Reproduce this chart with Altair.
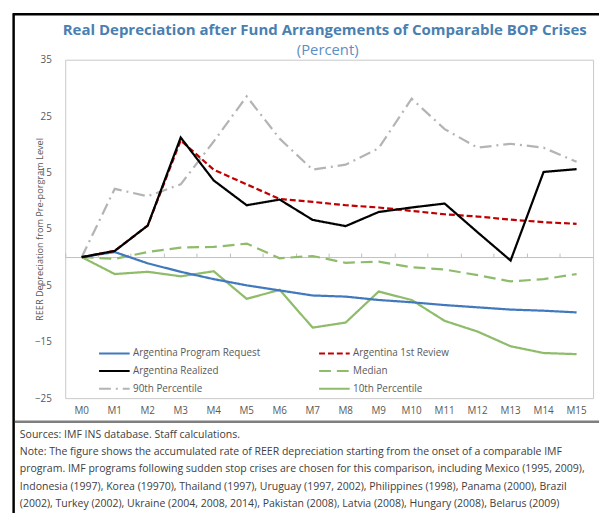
import altair as alt
import pandas as pd

months = [f"M{i}" for i in range(16)]

program_request = [0, 0.9, -1.1, -2.6, -3.9, -5.0, -5.9, -6.8, -7.0, -7.6, -8.0, -8.5, -8.9, -9.3, -9.5, -9.8]
first_review = [0, 1.1, 5.6, 20.7, 15.5, 12.9, 10.3, 9.8, 9.2, 8.8, 8.2, 7.6, 7.2, 6.65, 6.2, 5.9]
realized = [0, 1.1, 5.6, 21.2, 13.6, 9.2, 10.2, 6.6, 5.5, 8.0, 8.8, 9.5, 4.4, -0.6, 15.1, 15.6]
median = [0, -0.3, 0.9, 1.7, 1.8, 2.4, -0.2, 0.2, -1.0, -0.8, -1.8, -2.2, -3.2, -4.3, -3.9, -3.0]
pct90 = [0, 12.1, 10.8, 12.9, 20.5, 28.5, 21.0, 15.5, 16.4, 19.3, 28.1, 22.7, 19.4, 20.1, 19.4, 16.9]
pct10 = [0, -3.0, -2.6, -3.4, -2.5, -7.4, -5.8, -12.5, -11.6, -6.1, -7.6, -11.3, -13.2, -15.8, -17.0, -17.2]

series_names = [
    "Argentina Program Request",
    "Argentina 1st Review",
    "Argentina Realized",
    "Median",
    "90th Percentile",
    "10th Percentile",
]
series_colors = ["#4178be", "#c00000", "#000000", "#8fbc6b", "#b4b4b4", "#8fbc6b"]
series_dashes = [[1, 0], [6, 3], [1, 0], [12, 6], [12, 5, 2, 5], [1, 0]]

y_ticks = [-25, -15, -5, 5, 15, 25, 35]

title_text = "Real Depreciation after Fund Arrangements of Comparable BOP Crises"
subtitle_text = "(Percent)"
y_title = "REER  Depreciation from Pre-porgram Level"
note_lines = [
    "Sources: IMF INS database. Staff calculations.",
    "Note: The figure shows the accumulated  rate of REER depreciation starting from the onset of a comparable IMF",
    "program. IMF programs following sudden stop crises are chosen for this comparison, including Mexico (1995, 2009),",
    "Indonesia (1997), Korea (19970), Thailand (1997), Uruguay (1997, 2002), Philippines (1998), Panama (2000), Brazil",
    "(2002), Turkey (2002), Ukraine (2004, 2008, 2014), Pakistan (2008), Latvia (2008), Hungary (2008), Belarus (2009)",
    "and Jordan (2012).",
]

# drawing order (black last so it sits on top)
draw_order = [
    ("90th Percentile", pct90),
    ("10th Percentile", pct10),
    ("Median", median),
    ("Argentina Program Request", program_request),
    ("Argentina 1st Review", first_review),
    ("Argentina Realized", realized),
]
rows = []
for name, vals in draw_order:
    for m, v in zip(months, vals):
        rows.append({"month": m, "series": name, "value": v})
df = pd.DataFrame(rows)

FONT = "Open Sans"
GREY_TXT = "#595959"

x_scale = alt.Scale(type="band", paddingInner=0, paddingOuter=0)
y_scale = alt.Scale(domain=[-25, 35], nice=False, zero=False)

# wide line-sample symbol: path spans 6 radii -> 3*sqrt(size) = 31px
legend = alt.Legend(
    title=None, orient="none", legendX=43.3, legendY=291, columns=2, direction="horizontal",
    symbolType="M-3,0H3", symbolSize=106.8, symbolStrokeWidth=2.25,
    labelFontSize=10, labelColor=GREY_TXT, labelFont=FONT, labelOffset=12.4,
    columnPadding=54, rowPadding=6, gridAlign="all", padding=0, labelLimit=0,
)

lines = alt.Chart(df).mark_line(strokeWidth=2.25).encode(
    x=alt.X(
        "month:N", sort=months, bandPosition=0.5, scale=x_scale,
        axis=alt.Axis(
            orient="bottom", title=None, ticks=False, domain=False, labelAngle=0,
            labelFont=FONT, labelFontSize=10, labelColor=GREY_TXT, labelPadding=8,
        ),
    ),
    y=alt.Y(
        "value:Q", scale=y_scale,
        axis=alt.Axis(
            values=y_ticks, grid=False, ticks=False, domain=False,
            labelFont=FONT, labelFontSize=10, labelColor=GREY_TXT, labelPadding=14,
            title=y_title, titleFont=FONT, titleFontSize=9.3, titleFontWeight="normal",
            titleColor=GREY_TXT, titleX=-26, titleY=171.5, titleAngle=270,
            titleAlign="center", titleBaseline="middle",
        ),
    ),
    color=alt.Color("series:N", scale=alt.Scale(domain=series_names, range=series_colors),
                    sort=series_names, legend=legend),
    strokeDash=alt.StrokeDash("series:N", scale=alt.Scale(domain=series_names, range=series_dashes),
                              sort=series_names, legend=legend),
)

# zero axis line with category separator ticks
zero_axis = alt.Chart(df).mark_point(opacity=0).encode(
    x=alt.X(
        "month:N", sort=months, scale=x_scale,
        axis=alt.Axis(
            orient="top", offset=-200, labels=False, title=None, bandPosition=0,
            domainColor="#bfbfbf", domainWidth=1, tickColor="#bfbfbf", tickSize=4, tickWidth=1,
        ),
    ),
)

one = pd.DataFrame({"k": [0]})

frame_top = alt.Chart(one).mark_rule(color="#000000", strokeWidth=2.5).encode(
    x=alt.value(-53), x2=alt.value(545), y=alt.value(-46), y2=alt.value(-46))
frame_left = alt.Chart(one).mark_rule(color="#000000", strokeWidth=2.5).encode(
    x=alt.value(-52.3), x2=alt.value(-52.3), y=alt.value(-47), y2=alt.value(470))
note_sep = alt.Chart(one).mark_rule(color="#7f7f7f", strokeWidth=2.5).encode(
    x=alt.value(-51), x2=alt.value(545), y=alt.value(367), y2=alt.value(367))

title_mark = alt.Chart(one).mark_text(
    font=FONT, fontSize=15.2, fontWeight="bold", color="#4a7fb1", align="center", baseline="middle"
).encode(text=alt.value(title_text), x=alt.value(263), y=alt.value(-30))
subtitle_mark = alt.Chart(one).mark_text(
    font=FONT, fontSize=15, color="#5b8ec4", align="center", baseline="middle"
).encode(text=alt.value(subtitle_text), x=alt.value(266), y=alt.value(-10))

notes = alt.Chart(one).mark_text(
    font=FONT, fontSize=10.65, color="#404040", align="left", baseline="top", lineHeight=17.6
).encode(text=alt.value(note_lines), x=alt.value(-46), y=alt.value(375))

chart = alt.layer(
    zero_axis, lines, frame_top, frame_left, note_sep, title_mark, subtitle_mark, notes
).resolve_axis(x="independent").properties(
    width=535, height=343,
    autosize=alt.AutoSizeParams(type="none"),
    padding={"left": 58, "top": 49, "right": 6, "bottom": 113},
    background="white",
).configure_view(stroke="#c8c8c8", strokeWidth=1)

chart.save("out.html", embed_options={"renderer": "svg", "actions": False})
